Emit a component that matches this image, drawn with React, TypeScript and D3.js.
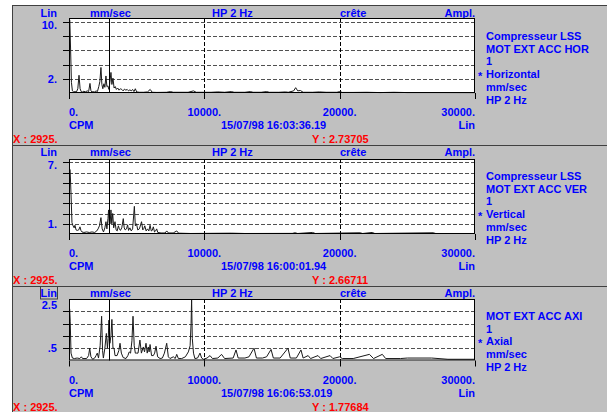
import React from "react";
import * as d3 from "d3";

// ---------- DATA ----------
const cursorCpm = 2925;
const xTicks = [0, 10000, 20000, 30000];
const xTickLabels = ["0.", "10000.", "20000.", "30000."];

const horGrid = [2, 4, 6, 8, 10];
const horLabels: [number, string][] = [[10, "10."], [2, "2."]];
const verGrid = [1, 2, 3, 4, 5, 6, 7];
const verLabels: [number, string][] = [[7, "7."], [1, "1."]];
const axiGrid = [0.5, 1, 1.5, 2];
const axiLabels: [number, string][] = [[2.5, "2.5"], [0.5, ".5"]];

const horSpectrum: [number, number][] = [
  [0, 10.3], [60, 10.3], [120, 6], [180, 1.5], [250, 0.3], [350, 0.15], [450, 0.2], [550, 0.15], [650, 0.6], [740, 2.5], [820, 0.6], [900, 0.2], [1000, 0.15], [1100, 0.25], [1200, 0.15], [1350, 0.3], [1450, 0.2], [1550, 1.35], [1620, 0.3], [1700, 0.15], [1800, 0.2], [1900, 0.15], [2000, 0.3], [2100, 0.2], [2200, 0.9], [2280, 1.6], [2360, 3.6], [2430, 1.2], [2500, 0.6], [2580, 1.3], [2650, 0.8], [2730, 2.4], [2800, 0.9], [2870, 1.0], [2950, 0.5], [3020, 1.5], [3100, 2.9], [3170, 1.2], [3250, 2.1], [3330, 0.7], [3420, 0.9], [3500, 0.5], [3600, 0.7], [3700, 0.4], [3800, 0.6], [3900, 0.5], [4000, 0.3], [4100, 0.55], [4200, 0.4], [4300, 0.5], [4400, 0.3], [4500, 0.45], [4600, 0.3], [4700, 0.5], [4800, 0.2], [4900, 0.6], [5000, 0.15], [5200, 0.1], [5500, 0.1], [5800, 0.15], [6000, 0.5], [6150, 0.1], [6500, 0.08], [7200, 0.1], [7500, 0.2], [7700, 0.1], [8800, 0.1], [9200, 0.3], [9400, 0.1], [10500, 0.1], [11000, 0.15], [11500, 0.1], [12000, 0.2], [12200, 0.1], [13000, 0.1], [13400, 0.2], [13600, 0.1], [14200, 0.1], [14600, 0.2], [14800, 0.1], [15500, 0.1], [16000, 0.15], [16200, 0.1], [16600, 0.3], [16750, 0.75], [16900, 0.3], [17100, 0.35], [17300, 0.1], [18000, 0.1], [18500, 0.15], [19000, 0.1], [19800, 0.1], [20000, 0.2], [20200, 0.08], [21000, 0.08], [22000, 0.1], [23000, 0.06], [24000, 0.1], [25000, 0.06], [27000, 0.06], [30000, 0.05],
];

const verSpectrum: [number, number][] = [
  [0, 6.3], [80, 6.3], [150, 3.9], [220, 1.1], [300, 0.8], [380, 0.6], [440, 0.85], [520, 0.4], [620, 0.35], [720, 0.4], [810, 0.7], [880, 0.35], [960, 0.2], [1100, 0.15], [1300, 0.2], [1500, 0.15], [1700, 0.2], [1900, 0.15], [2050, 0.3], [2150, 0.5], [2250, 0.8], [2360, 1.6], [2450, 0.5], [2550, 0.2], [2650, 0.6], [2730, 1.2], [2800, 0.5], [2880, 1.5], [2925, 2.35], [2980, 0.9], [3040, 1.0], [3100, 2.35], [3160, 1.0], [3230, 2.0], [3300, 0.6], [3400, 1.2], [3480, 0.4], [3560, 0.3], [3650, 0.8], [3720, 0.5], [3800, 0.35], [3900, 0.6], [4010, 1.5], [4080, 0.6], [4150, 0.4], [4250, 0.5], [4330, 0.9], [4400, 0.35], [4500, 0.6], [4600, 0.3], [4700, 0.5], [4830, 2.7], [4900, 0.8], [4990, 1.0], [5080, 0.4], [5200, 0.5], [5360, 1.2], [5450, 0.4], [5520, 0.5], [5600, 0.8], [5700, 0.3], [5800, 0.5], [5900, 0.3], [5990, 0.85], [6080, 0.3], [6150, 0.35], [6230, 0.7], [6320, 0.2], [6400, 0.3], [6480, 0.5], [6560, 0.15], [6800, 0.1], [7100, 0.1], [7220, 0.3], [7350, 0.1], [7700, 0.1], [7960, 0.3], [8100, 0.08], [9000, 0.05], [12000, 0.08], [13000, 0.05], [16500, 0.06], [16700, 0.12], [16900, 0.05], [18000, 0.15], [18200, 0.05], [21500, 0.12], [21700, 0.05], [22400, 0.15], [22600, 0.05], [26900, 0.12], [27100, 0.05], [30000, 0.05],
];

const axiSpectrum: [number, number][] = [
  [0, 2.1], [50, 2.1], [90, 1.6], [150, 0.3], [250, 0.1], [400, 0.08], [600, 0.1], [800, 0.08], [915, 0.15], [1000, 0.08], [1300, 0.08], [1450, 0.2], [1530, 0.5], [1620, 0.15], [1750, 0.05], [1900, 0.1], [2000, 0.2], [2090, 0.3], [2180, 0.1], [2300, 0.6], [2410, 1.8], [2480, 0.4], [2540, 0.1], [2650, 0.5], [2760, 1.1], [2840, 0.5], [2900, 0.9], [2950, 1.64], [3020, 0.7], [3100, 1.0], [3170, 1.67], [3250, 0.5], [3330, 0.5], [3400, 0.2], [3550, 0.2], [3680, 0.4], [3770, 0.7], [3870, 0.3], [4000, 0.12], [4210, 0.08], [4350, 0.2], [4450, 0.35], [4550, 0.3], [4650, 0.8], [4730, 1.8], [4820, 0.6], [4900, 0.3], [4990, 0.3], [5100, 0.3], [5240, 0.83], [5350, 0.3], [5490, 0.55], [5580, 0.35], [5690, 0.7], [5780, 0.3], [5860, 0.55], [5920, 0.35], [5990, 0.65], [6100, 0.2], [6230, 0.2], [6330, 0.3], [6430, 0.58], [6550, 0.15], [6730, 0.08], [6900, 0.1], [7050, 0.3], [7220, 0.7], [7340, 0.15], [7460, 0.08], [7710, 0.15], [7850, 0.08], [7960, 0.25], [8080, 0.08], [8330, 0.08], [8600, 0.15], [8820, 0.35], [8950, 0.6], [9020, 1.5], [9060, 2.5], [9110, 0.9], [9200, 0.3], [9300, 0.08], [9500, 0.1], [9680, 0.3], [9800, 0.1], [9930, 0.05], [10200, 0.1], [10420, 0.2], [10600, 0.08], [11000, 0.1], [11270, 0.25], [11500, 0.08], [12130, 0.1], [12340, 0.43], [12500, 0.1], [13000, 0.1], [13300, 0.15], [13670, 0.5], [13850, 0.1], [14300, 0.1], [14600, 0.15], [14930, 0.45], [15100, 0.1], [15600, 0.1], [16180, 0.5], [16350, 0.1], [16800, 0.1], [17140, 0.43], [17300, 0.1], [17670, 0.2], [17850, 0.08], [18400, 0.2], [18600, 0.08], [19290, 0.2], [19500, 0.08], [20000, 0.15], [20200, 0.08], [21000, 0.08], [22200, 0.25], [22500, 0.08], [23150, 0.25], [23400, 0.08], [24500, 0.08], [25000, 0.1], [26800, 0.1], [28000, 0.05], [30000, 0.05],
];

const horInfo = ["Compresseur LSS", "MOT EXT ACC HOR", "1", "Horizontal", "mm/sec", "HP 2 Hz"];
const verInfo = ["Compresseur LSS", "MOT EXT ACC VER", "1", "Vertical", "mm/sec", "HP 2 Hz"];
const axiInfo = ["MOT EXT ACC AXI", "1", "Axial", "mm/sec", "HP 2 Hz"];
const starred = ["Horizontal", "Vertical", "Axial"];

const timestamps = ["15/07/98 16:03:36.19", "15/07/98 16:00:01.94", "15/07/98 16:06:53.019"];
const yReadouts = ["2.73705", "2.66711", "1.77684"];
const headerLabels = ["Lin", "mm/sec", "HP 2 Hz", "crête", "Ampl."];

// ---------- LAYOUT ----------
const W = 614;
const H = 412;
const plotLeft = 69;
const plotRight = 475;
const BLUE = "#0000ff";
const RED = "#ff0000";
const FONT = "'Liberation Sans', Arial, sans-serif";

type PanelCfg = {
  top: number;
  headerY: number;
  plotTop: number;
  plotBottom: number;
  vmax: number;
  vmaxY: number;
  topLabelDy: number;
  grid: number[];
  labels: [number, string][];
  data: [number, number][];
  info: string[];
  infoStart: number;
  boxedLin: boolean;
  ts: string;
  yr: string;
};

const panels: PanelCfg[] = [
  { top: 5, headerY: 17, plotTop: 18, plotBottom: 93, vmax: 10, vmaxY: 22, topLabelDy: 7, grid: horGrid, labels: horLabels, data: horSpectrum, info: horInfo, infoStart: 31, boxedLin: false, ts: timestamps[0], yr: yReadouts[0] },
  { top: 145, headerY: 156, plotTop: 159, plotBottom: 234, vmax: 7, vmaxY: 162.3, topLabelDy: 7, grid: verGrid, labels: verLabels, data: verSpectrum, info: verInfo, infoStart: 31, boxedLin: false, ts: timestamps[1], yr: yReadouts[1] },
  { top: 286, headerY: 296.5, plotTop: 299, plotBottom: 360.5, vmax: 2.5, vmaxY: 299, topLabelDy: 10, grid: axiGrid, labels: axiLabels, data: axiSpectrum, info: axiInfo, infoStart: 30, boxedLin: true, ts: timestamps[2], yr: yReadouts[2] },
];

const x = d3.scaleLinear().domain([0, 30000]).range([plotLeft, plotRight]);

function Panel({ p, nextTop }: { p: PanelCfg; nextTop: number }) {
  const y = d3.scaleLinear().domain([0, p.vmax]).range([p.plotBottom, p.vmaxY]);
  const line = d3
    .line<[number, number]>()
    .x((d) => x(d[0]))
    .y((d) => Math.max(p.plotTop, y(d[1])));
  const T = p.top;
  const hy = p.headerY;
  const txt = { fontFamily: FONT, fontWeight: 700, fontSize: 11 } as const;
  const b = p.plotBottom;
  return (
    <g>
      <rect x={12} y={T} width={595} height={nextTop - T} fill="#c0c0c0" />
      <line x1={12} x2={607} y1={T + 0.5} y2={T + 0.5} stroke="#404040" />
      {/* header */}
      <text x={57} y={hy} textAnchor="end" fill={BLUE} {...txt}>{headerLabels[0]}</text>
      {p.boxedLin && (
        <rect x={40.5} y={T + 0.5} width={17} height={12.5} fill="none" stroke="#404040" />
      )}
      <text x={90} y={hy} fill={BLUE} {...txt}>{headerLabels[1]}</text>
      <text x={212} y={hy} fill={BLUE} {...txt}>{headerLabels[2]}</text>
      <text x={340} y={hy} fill={BLUE} {...txt}>{headerLabels[3]}</text>
      <text x={475} y={hy} textAnchor="end" fill={BLUE} {...txt}>{headerLabels[4]}</text>
      {/* plot area */}
      <rect x={plotLeft} y={p.plotTop} width={plotRight - plotLeft} height={b - p.plotTop} fill="#ffffff" />
      {p.grid.map((g) => (
        <line key={"g" + g} x1={plotLeft} x2={plotRight} y1={Math.round(y(g)) + 0.5} y2={Math.round(y(g)) + 0.5} stroke="#505050" strokeDasharray="4,2" />
      ))}
      {xTicks.slice(1, 3).map((t) => (
        <line key={"v" + t} x1={Math.round(x(t)) + 0.5} x2={Math.round(x(t)) + 0.5} y1={p.plotTop} y2={b} stroke="#000" strokeDasharray="4,2" />
      ))}
      <path d={line(p.data) || ""} fill="none" stroke="#1a1a1a" strokeWidth={1} />
      <line x1={Math.round(x(cursorCpm)) + 0.5} x2={Math.round(x(cursorCpm)) + 0.5} y1={p.plotTop} y2={b} stroke="#000" />
      <rect x={plotLeft + 0.5} y={p.plotTop + 0.5} width={plotRight - plotLeft - 1} height={b - p.plotTop - 1} fill="none" stroke="#000" />
      {/* ticks */}
      {p.grid.map((g) => (
        <line key={"t" + g} x1={plotLeft - 6} x2={plotLeft} y1={Math.round(y(g)) + 0.5} y2={Math.round(y(g)) + 0.5} stroke="#000" />
      ))}
      {xTicks.map((t) => (
        <line key={"xt" + t} x1={Math.round(x(t)) + 0.5} x2={Math.round(x(t)) + 0.5} y1={b} y2={b + 6} stroke="#000" />
      ))}
      {p.labels.map(([v, s], i) => (
        <text key={"l" + s} x={57} y={y(v) + (i === 0 ? p.topLabelDy : 4)} textAnchor="end" fill={BLUE} {...txt}>{s}</text>
      ))}
      {xTicks.map((t, i) => (
        <text key={"xl" + t} x={x(t)} y={b + 23} textAnchor={i === 0 ? "start" : i === 3 ? "end" : "middle"} fill={BLUE} {...txt}>{xTickLabels[i]}</text>
      ))}
      <text x={69} y={b + 36} fill={BLUE} {...txt}>CPM</text>
      <text x={221} y={b + 36} fill={BLUE} {...txt}>{p.ts}</text>
      <text x={475} y={b + 36} textAnchor="end" fill={BLUE} {...txt}>Lin</text>
      <text x={13} y={b + 50} fill={RED} {...txt}>X : {cursorCpm}.</text>
      <text x={312} y={b + 50} fill={RED} {...txt}>Y : {p.yr}</text>
      {/* info */}
      {p.info.map((s, i) => (
        <g key={"i" + i}>
          {starred.includes(s) && (
            <text x={478} y={T + p.infoStart + i * 12.7 + 6} fill={BLUE} {...txt}>*</text>
          )}
          <text x={486} y={T + p.infoStart + i * 12.7 + 4} fill={BLUE} {...txt}>{s}</text>
        </g>
      ))}
    </g>
  );
}

export default function App() {
  return (
    <svg width={W} height={H} style={{ position: "absolute", left: 0, top: 0, background: "#ffffff" }}>
      {panels.map((p, i) => (
        <Panel key={i} p={p} nextTop={i < panels.length - 1 ? panels[i + 1].top : H} />
      ))}
      <line x1={12.5} x2={12.5} y1={5} y2={H} stroke="#404040" />
    </svg>
  );
}
